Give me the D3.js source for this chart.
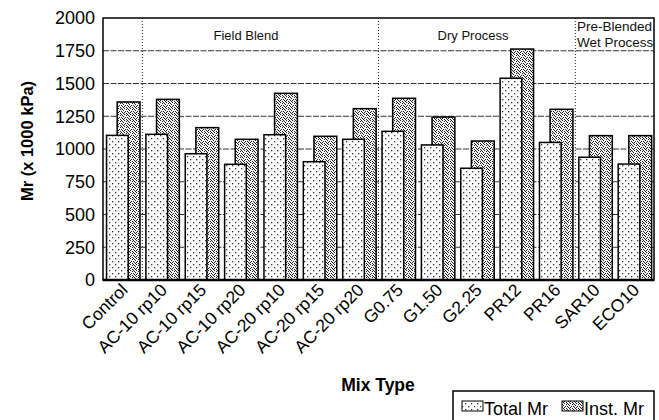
<!DOCTYPE html>
<html lang="en">
<head>
<meta charset="UTF-8">
<title>Mr by Mix Type</title>
<script src="https://cdn.jsdelivr.net/npm/d3@7"></script>
<style>
  body { margin: 0; padding: 0; background: #fff; overflow: hidden; }
  svg { display: block; font-family: "Liberation Sans", Arial, sans-serif; }
</style>
</head>
<body>
<div id="chart"></div>
<script>
const mixTypes = ["Control", "AC-10 rp10", "AC-10 rp15", "AC-10 rp20", "AC-20 rp10", "AC-20 rp15", "AC-20 rp20",
                  "G0.75", "G1.50", "G2.25", "PR12", "PR16", "SAR10", "ECO10"];
const totalMr = [1104, 1112, 964, 883, 1109, 903, 1074, 1135, 1031, 853, 1540, 1050, 937, 885];
const instMr  = [1359, 1379, 1163, 1074, 1425, 1097, 1308, 1387, 1244, 1061, 1763, 1303, 1102, 1102];
const yTicks = [0, 250, 500, 750, 1000, 1250, 1500, 1750, 2000];
// group boundaries (index of first category in each group) and labels
const groupStarts = [1, 7, 12];
const groupLabels = [["Field Blend"], ["Dry Process"], ["Pre-Blended", "Wet Process"]];

const W = 659, H = 420;
const margin = { top: 18, left: 103, right: 5, bottom: 140 };
const width = W - margin.left - margin.right;
const height = H - margin.top - margin.bottom;

const svg = d3.select("#chart").append("svg")
  .attr("width", W)
  .attr("height", H);

// fill patterns
const defs = svg.append("defs");
const pTotal = defs.append("pattern")
  .attr("id", "patTotal").attr("patternUnits", "userSpaceOnUse")
  .attr("width", 6).attr("height", 6);
pTotal.append("rect").attr("width", 6).attr("height", 6).attr("fill", "#fff");
[[0, 0], [3, 3]].forEach(([x, y]) =>
  pTotal.append("rect").attr("x", x).attr("y", y).attr("width", 1.3).attr("height", 1.3).attr("fill", "#333"));

// irregular stipple for the instantaneous bars
const pInst = defs.append("pattern")
  .attr("id", "patInst").attr("patternUnits", "userSpaceOnUse")
  .attr("width", 6).attr("height", 6);
pInst.append("rect").attr("width", 6).attr("height", 6).attr("fill", "#f2f2f2");
[[0, 0], [3, 0], [1, 1], [5, 1], [2, 2], [4, 3], [0, 3], [1, 4], [3, 4], [5, 5], [2, 5]].forEach(([x, y]) =>
  pInst.append("rect").attr("x", x).attr("y", y).attr("width", 1).attr("height", 1).attr("fill", "#222"));

const g = svg.append("g").attr("transform", `translate(${margin.left},${margin.top})`);

const x = d3.scaleBand().domain(mixTypes).range([0, width]).padding(0);
const y = d3.scaleLinear().domain([0, 2000]).range([height, 0]);
const bw = x.bandwidth();

// gridlines
g.append("g")
  .selectAll("line")
  .data(yTicks.filter(d => d > 0 && d < 2000))
  .enter().append("line")
  .attr("x1", 0).attr("x2", width)
  .attr("y1", d => y(d)).attr("y2", d => y(d))
  .attr("stroke", "#333").attr("stroke-width", 1)
  .attr("stroke-dasharray", "6,1.5");

// group separators
g.append("g")
  .selectAll("line")
  .data(groupStarts)
  .enter().append("line")
  .attr("x1", d => x(mixTypes[d])).attr("x2", d => x(mixTypes[d]))
  .attr("y1", 0).attr("y2", height)
  .attr("stroke", "#222").attr("stroke-width", 1)
  .attr("stroke-dasharray", "1,2");

// group labels
const groupPos = [
  { x: 143, anchor: "middle" },
  { x: 370, anchor: "middle" },
  { x: 474, anchor: "start" }
];
groupLabels.forEach((lines, i) => {
  const t = g.append("text")
    .attr("x", groupPos[i].x)
    .attr("text-anchor", groupPos[i].anchor)
    .attr("font-size", lines.length > 1 ? 13.5 : 13)
    .attr("fill", "#111");
  lines.forEach((s, j) => {
    t.append("tspan")
      .attr("x", groupPos[i].x)
      .attr("y", lines.length > 1 ? 13 + j * 16 : 22)
      .text(s);
  });
});

// inst bars (behind)
g.append("g")
  .selectAll("rect")
  .data(mixTypes)
  .enter().append("rect")
  .attr("x", d => x(d) + bw * 0.36)
  .attr("width", bw * 0.58)
  .attr("y", (d, i) => y(instMr[i]))
  .attr("height", (d, i) => height - y(instMr[i]))
  .attr("fill", "url(#patInst)")
  .attr("stroke", "#000").attr("stroke-width", 1.5);

// total bars (front)
g.append("g")
  .selectAll("rect")
  .data(mixTypes)
  .enter().append("rect")
  .attr("x", d => x(d) + bw * 0.09)
  .attr("width", bw * 0.55)
  .attr("y", (d, i) => y(totalMr[i]))
  .attr("height", (d, i) => height - y(totalMr[i]))
  .attr("fill", "url(#patTotal)")
  .attr("stroke", "#000").attr("stroke-width", 1.5);

// frame
g.append("rect")
  .attr("width", width).attr("height", height)
  .attr("fill", "none").attr("stroke", "#000").attr("stroke-width", 1.5);
g.append("line")
  .attr("x1", 0).attr("x2", width).attr("y1", height).attr("y2", height)
  .attr("stroke", "#000").attr("stroke-width", 2.5);

// y axis
const yAxis = g.append("g")
  .call(d3.axisLeft(y).tickValues(yTicks).tickFormat(d3.format("d")).tickSize(0).tickPadding(8));
yAxis.select(".domain").remove();
yAxis.selectAll("text")
  .attr("font-size", 18).attr("font-family", "Liberation Sans, Arial, sans-serif").attr("fill", "#000");

// x axis labels
g.append("g")
  .selectAll("text")
  .data(mixTypes)
  .enter().append("text")
  .attr("transform", d => `translate(${x(d) + bw / 2 + 6},${height + 11}) rotate(-45)`)
  .attr("text-anchor", "end")
  .attr("font-size", 17.5)
  .attr("fill", "#000")
  .text(d => d);

// axis titles
svg.append("text")
  .attr("transform", "translate(33,141) rotate(-90)")
  .attr("text-anchor", "middle")
  .attr("font-size", 16.5).attr("font-weight", "bold")
  .text("Mr (x 1000 kPa)");

svg.append("text")
  .attr("x", 378).attr("y", 391)
  .attr("text-anchor", "middle")
  .attr("font-size", 17.5).attr("font-weight", "bold")
  .text("Mix Type");

// legend
const legend = svg.append("g").attr("transform", "translate(453,391)");
legend.append("rect")
  .attr("width", 201).attr("height", 40)
  .attr("fill", "#fff").attr("stroke", "#000").attr("stroke-width", 1.5);
const legendItems = [
  { label: "Total Mr", fill: "url(#patTotal)", x: 9 },
  { label: "Inst. Mr", fill: "url(#patInst)", x: 109 }
];
legendItems.forEach(it => {
  legend.append("rect")
    .attr("x", it.x).attr("y", 10).attr("width", 21).attr("height", 10)
    .attr("fill", it.fill).attr("stroke", "#000").attr("stroke-width", 1);
  legend.append("text")
    .attr("x", it.x + 22).attr("y", 24)
    .attr("font-size", 18)
    .text(it.label);
});
</script>
</body>
</html>
